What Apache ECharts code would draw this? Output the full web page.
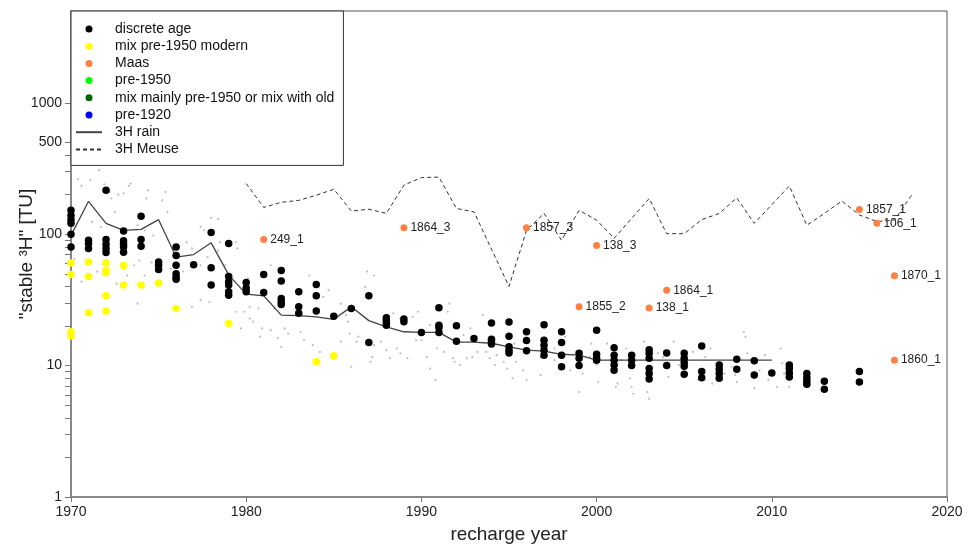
<!DOCTYPE html>
<html>
<head>
<meta charset="utf-8">
<script src="https://cdn.jsdelivr.net/npm/echarts@6/dist/echarts.min.js"></script>
<style>
  html, body { margin: 0; padding: 0; background: #fff; }
  #chart { width: 973px; height: 544px; }
</style>
</head>
<body>
<div id="chart"></div>
<script>
// tick positions on the y axis (TU)
var yTickLabels = [1, 10, 100, 500, 1000];
var yMinorTicks = [2, 3, 4, 5, 6, 7, 8, 9, 20, 30, 40, 50, 60, 70, 80, 90, 200, 300, 400];
var xTicks = [1970, 1980, 1990, 2000, 2010, 2020];

// 3H in rain
var rainYears = [1970, 1971, 1972, 1973, 1974, 1975, 1976, 1977, 1978, 1979,
  1980, 1981, 1982, 1983, 1984, 1985, 1986, 1987, 1988, 1989,
  1990, 1991, 1992, 1993, 1994, 1995, 1996, 1997, 1998, 1999,
  2000, 2001, 2002, 2003, 2004, 2005, 2006, 2007, 2008, 2009, 2010];
var rainTU = [98, 178, 121, 107, 109, 129, 67, 70, 86, 49,
  35, 34, 24.2, 24, 23.5, 22.5, 28, 22, 19.7, 18.1,
  17.9, 17.9, 15.1, 15.1, 14.8, 13.9, 13.1, 12.9, 12.2, 12.0,
  11, 11, 11, 11, 11, 11, 11, 11, 11, 11, 11];

// 3H in the Meuse
var meuseYears = [1980, 1981, 1982, 1983, 1984, 1985, 1986, 1987, 1988, 1989,
  1990, 1991, 1992, 1993, 1994, 1995, 1996, 1997, 1998, 1999,
  2000, 2001, 2002, 2003, 2004, 2005, 2006, 2007, 2008, 2009,
  2010, 2011, 2012, 2013, 2014, 2015, 2016, 2017, 2018];
var meuseTU = [243, 160, 175, 181, 198, 220, 150, 155, 144, 236,
  270, 272, 157, 148, 77, 40, 107, 144, 90, 152,
  128, 93, 132, 187, 101, 101, 129, 144, 189, 121,
  168, 233, 117, 144, 179, 140, 125, 128, 200];

// Maas samples
var maasNames = ['249_1', '1864_3', '1857_3', '138_3', '1855_2', '138_1', '1864_1', '1857_1', '106_1', '1870_1', '1860_1'];
var maasYears = [1981, 1989, 1996, 2000, 1999, 2003, 2004, 2015, 2016, 2017, 2017];
var maasTU = [91, 112, 112, 82, 28, 27.5, 37.5, 154, 121, 48.2, 11.0];

// discrete age [year, TU]
var discreteAge = [
  [1970, 152], [1970, 139], [1970, 129], [1970, 121], [1970, 100], [1970, 80],
  [1971, 90], [1971, 85], [1971, 78],
  [1972, 216], [1972, 91], [1972, 84], [1972, 78], [1972, 72.5],
  [1973, 106], [1973, 89], [1973, 84], [1973, 80], [1973, 73],
  [1974, 137], [1974, 91], [1974, 81],
  [1975, 61.5], [1975, 58], [1975, 54],
  [1976, 80], [1976, 69], [1976, 58], [1976, 50], [1976, 47], [1976, 45.5],
  [1977, 58.6],
  [1978, 103], [1978, 55.5], [1978, 41],
  [1979, 85], [1979, 47.6], [1979, 43.5], [1979, 41], [1979, 36.5], [1979, 34.3],
  [1980, 43], [1980, 39], [1980, 36.5],
  [1981, 49.4], [1981, 36],
  [1982, 53], [1982, 44], [1982, 32.4], [1982, 30.6], [1982, 29.2],
  [1983, 36.5], [1983, 28], [1983, 25],
  [1984, 41.5], [1984, 34], [1984, 26],
  [1985, 23.7],
  [1986, 27.2],
  [1987, 34], [1987, 15],
  [1988, 23.1], [1988, 22.2], [1988, 21.3], [1988, 20.3],
  [1989, 22.6], [1989, 21.6],
  [1990, 17.9],
  [1991, 27.6], [1991, 20.3], [1991, 19.5], [1991, 17.9],
  [1992, 20.1], [1992, 15.3],
  [1993, 16.1],
  [1994, 21.1], [1994, 15.9], [1994, 15.2], [1994, 14.6],
  [1995, 21.5], [1995, 16.7], [1995, 13.9], [1995, 13.1], [1995, 12.5],
  [1996, 18.1], [1996, 15.5], [1996, 13.0],
  [1997, 20.5], [1997, 15.6], [1997, 14.3], [1997, 13.1], [1997, 12.0],
  [1998, 18.1], [1998, 15.0], [1998, 12.0], [1998, 9.8],
  [1999, 12.4], [1999, 11.4], [1999, 10.0],
  [2000, 18.6], [2000, 12.2], [2000, 11.4], [2000, 11.0],
  [2001, 13.7], [2001, 12.0], [2001, 11.0], [2001, 10.1], [2001, 9.2],
  [2002, 12.0], [2002, 11.0], [2002, 10.0],
  [2003, 13.2], [2003, 12.4], [2003, 11.4], [2003, 9.5], [2003, 8.7], [2003, 7.9],
  [2004, 12.5], [2004, 10.0],
  [2005, 12.4], [2005, 11.4], [2005, 10.5], [2005, 9.9], [2005, 8.6],
  [2006, 14.1], [2006, 9.0], [2006, 8.1],
  [2007, 10.1], [2007, 9.4], [2007, 8.7], [2007, 8.0],
  [2008, 11.2], [2008, 9.4],
  [2009, 10.9], [2009, 8.5],
  [2010, 8.8],
  [2011, 10.1], [2011, 9.5], [2011, 8.8], [2011, 8.2],
  [2012, 8.7], [2012, 8.1], [2012, 7.6], [2012, 7.2],
  [2013, 7.6], [2013, 6.6],
  [2015, 9.0], [2015, 7.5]
];

// mix pre-1950 modern [year, TU]
var mixModern = [
  [1970, 60.5], [1970, 49.4], [1970, 18.1], [1970, 16.9],
  [1971, 61.5], [1971, 47.6], [1971, 25.2],
  [1972, 60.5], [1972, 53], [1972, 51], [1972, 34], [1972, 26],
  [1973, 57.9], [1973, 41],
  [1974, 41],
  [1975, 42.6],
  [1976, 27.2],
  [1979, 20.9],
  [1984, 10.7],
  [1985, 11.9]
];

// grey background cloud [year, TU]
var background = [
  [1970.4, 262], [1970.6, 233], [1971.1, 257], [1971.6, 307], [1971.9, 240], [1972.2, 210], [1972.3, 187],
  [1972.7, 200], [1973.0, 205], [1973.3, 233], [1973.4, 243], [1974.4, 216], [1975.2, 181], [1975.4, 210],
  [1975.5, 148], [1972.5, 148], [1971.2, 124], [1971.7, 114], [1973.8, 117], [1974.2, 107], [1974.7, 98],
  [1973.9, 63], [1974.6, 61], [1973.2, 48.5], [1973.6, 58], [1971.5, 52], [1970.6, 43.5], [1970.2, 65],
  [1972.6, 42], [1974.2, 48.5], [1975.7, 54.6], [1976.4, 52], [1976.6, 87], [1976.9, 78], [1977.4, 114],
  [1977.6, 107], [1978.0, 133], [1978.4, 131], [1978.5, 87], [1977.4, 58], [1977.8, 67], [1978.4, 75],
  [1978.8, 58], [1979.4, 87], [1979.5, 78], [1977.4, 31.5], [1977.9, 30.5], [1973.8, 29.6], [1979.4, 25.7],
  [1979.9, 25.7], [1979.7, 19.2], [1980.4, 21.6], [1980.2, 22.8], [1980.7, 27.2], [1980.9, 19.2], [1980.8, 16.6],
  [1981.4, 58], [1981.4, 18.6], [1981.6, 27.2], [1981.8, 16.2], [1982.0, 13.9], [1982.2, 19.2], [1982.4, 17.5],
  [1980.1, 46], [1981.1, 36.5], [1976.9, 28], [1980.2, 28], [1974.3, 187], [1971.0, 82],
  [1986.9, 52], [1987.3, 48.5], [1986.8, 39.7], [1983.6, 48.5], [1984.4, 33.3], [1985.4, 29.6], [1985.7, 24.2],
  [1985.8, 21.6], [1983.1, 18.1], [1983.3, 15.6], [1983.8, 14.3], [1984.2, 12.7], [1985.4, 15.2], [1986.0, 9.8],
  [1986.4, 16.6], [1987.2, 11.6], [1987.1, 10.7], [1987.7, 15.2], [1988.0, 13.1], [1988.6, 13.5], [1988.8, 12.4],
  [1989.2, 11.4], [1988.1, 24.2], [1988.4, 25], [1988.8, 22.8], [1989.5, 23.5], [1989.7, 15.6], [1990.0, 15.6],
  [1990.3, 11.6], [1990.5, 9.5], [1990.8, 7.8], [1990.9, 13.5], [1991.3, 12.7], [1991.6, 29.6], [1991.5, 25.7],
  [1991.8, 11.4], [1991.9, 10.7], [1992.2, 10.1], [1992.6, 11.4], [1992.9, 11.6], [1993.2, 12.7], [1993.5, 24.2],
  [1993.7, 12.7], [1993.9, 11.4], [1994.2, 10.1], [1994.3, 12], [1994.7, 10.7], [1994.9, 9.5], [1995.2, 8],
  [1992.8, 19.2], [1992.4, 17.1], [1990.5, 20.3], [1989.8, 25.7], [1986.3, 15.2], [1987.3, 14.3], [1988.2, 11.4],
  [1984.7, 37.5], [1982.9, 28.8], [1985.9, 17.5],
  [1995.4, 10.7], [1996.0, 7.8], [1996.8, 8.5], [1995.8, 9.2], [1997.6, 11], [1998.5, 9.2], [1999.0, 6.3],
  [1999.2, 8.7], [1999.7, 14.7], [2000.0, 10.1], [2000.1, 7.5], [2000.6, 14.7], [2001.1, 6.9], [2001.2, 7.3],
  [2001.9, 8], [2002.0, 6.9], [2002.1, 6.1], [2002.7, 15.2], [2002.9, 6.3], [2003.0, 5.6], [2003.5, 12.4],
  [2004.1, 8.2], [2004.4, 15.2], [2004.7, 10.1], [2005.5, 12.7], [2005.8, 7.8], [2006.5, 13.5], [2006.6, 7.3],
  [2007.3, 8.7], [2007.7, 9.8], [1995.3, 14.7], [1996.8, 11.6], [1997.6, 13.5], [1998.2, 16.6], [2001.4, 11],
  [2001.7, 13.5], [2003.8, 11.6], [2004.8, 11], [2006.2, 11.6], [1999.6, 11.6],
  [2008.4, 18.1], [2008.5, 16.6], [2008.6, 12.4], [2009.6, 12], [2010.5, 13.5], [2010.6, 10.4], [2008.0, 7.5],
  [2009.0, 6.7], [2009.0, 8], [2009.8, 7.8], [2010.3, 6.9], [2011.0, 6.9], [2010.7, 8.7], [2007.9, 8.5],
  [2009.3, 9.2]
];

(function () {
  var font = '"Liberation Sans", Arial, sans-serif';
  var yMax = 5000;

  function pairs(xs, ys) {
    return xs.map(function (x, i) { return [x, ys[i]]; });
  }

  var maasData = maasYears.map(function (y, i) {
    return { name: maasNames[i], value: [y, maasTU[i]] };
  });

  var log10 = function (v) { return Math.log10(v); };
  var noSymbol = { opacity: 0 };

  var chart = echarts.init(document.getElementById('chart'), null, { renderer: 'canvas' });
  chart.setOption({
    animation: false,
    backgroundColor: '#fff',
    textStyle: { fontFamily: font },
    grid: {
      left: 71, right: 26, top: 11, bottom: 47,
      outerBoundsMode: 'none',
      show: true, borderColor: '#555', borderWidth: 1
    },
    legend: {
      orient: 'vertical',
      left: 71, top: 11,
      padding: [11, 9, 9, 4],
      borderColor: '#333', borderWidth: 1,
      backgroundColor: '#fff',
      itemWidth: 26, itemHeight: 7, itemGap: 3.2,
      textStyle: { fontSize: 14, color: '#111', lineHeight: 14, padding: [0, 0, 0, 8] },
      data: ['discrete age', 'mix pre-1950 modern', 'Maas', 'pre-1950',
        'mix mainly pre-1950 or mix with old', 'pre-1920',
        { name: '3H rain', itemStyle: noSymbol },
        { name: '3H Meuse', itemStyle: noSymbol }]
    },
    xAxis: {
      type: 'value',
      min: xTicks[0], max: xTicks[xTicks.length - 1], interval: 10,
      name: 'recharge year', nameLocation: 'middle', nameGap: 28,
      nameMoveOverlap: false,
      nameTextStyle: { fontSize: 19, color: '#222' },
      axisLine: { lineStyle: { color: '#888', width: 2 } },
      axisTick: { length: 5, lineStyle: { color: '#777' } },
      axisLabel: { fontSize: 14, color: '#222', margin: 8, formatter: function (v) { return String(v); } },
      splitLine: { show: false }
    },
    yAxis: [{
      type: 'log', logBase: 10, min: 1, max: yMax,
      axisLine: { show: true, lineStyle: { color: '#888', width: 2 } },
      axisTick: { show: false },
      axisLabel: { show: false },
      splitLine: { show: false }
    }, {
      type: 'value', position: 'left', offset: 0,
      min: 0, max: log10(yMax),
      name: '"stable \u00b3H" [TU]', nameLocation: 'middle', nameGap: 35,
      nameMoveOverlap: false,
      nameTextStyle: { fontSize: 19, color: '#222' },
      axisLine: { show: false },
      axisTick: {
        show: true, length: 6, lineStyle: { color: '#777' },
        customValues: yTickLabels.concat(yMinorTicks).map(log10)
      },
      axisLabel: {
        fontSize: 14, color: '#222', margin: 9,
        customValues: yTickLabels.map(log10),
        formatter: function (v) { return String(Math.round(Math.pow(10, v))); }
      },
      splitLine: { show: false }
    }],
    series: [
      {
        name: 'background', type: 'scatter', yAxisIndex: 0,
        symbolSize: 2.2, itemStyle: { color: '#bdbdbd', opacity: 1 },
        silent: true, data: background, z: 1
      },
      {
        name: '3H rain', type: 'line', yAxisIndex: 0, symbol: 'none',
        lineStyle: { color: '#444', width: 1.3 },
        itemStyle: { color: '#444' },
        data: pairs(rainYears, rainTU), z: 2
      },
      {
        name: '3H Meuse', type: 'line', yAxisIndex: 0, symbol: 'none',
        lineStyle: { color: '#333', width: 1, type: [4, 3] },
        itemStyle: { color: '#333' },
        data: pairs(meuseYears, meuseTU), z: 2
      },
      {
        name: 'discrete age', type: 'scatter', yAxisIndex: 0,
        symbolSize: 7.5, itemStyle: { color: '#000', opacity: 1 },
        data: discreteAge, z: 3
      },
      {
        name: 'mix pre-1950 modern', type: 'scatter', yAxisIndex: 0,
        symbolSize: 7.5, itemStyle: { color: '#ffff00', opacity: 1 },
        data: mixModern, z: 3
      },
      {
        name: 'Maas', type: 'scatter', yAxisIndex: 0,
        symbolSize: 7, itemStyle: { color: '#ff7f45', opacity: 1 },
        label: {
          show: true, position: 'right', distance: 3,
          fontSize: 12, color: '#222',
          formatter: function (p) { return p.name; }
        },
        data: maasData, z: 4
      },
      { name: 'pre-1950', type: 'scatter', yAxisIndex: 0, itemStyle: { color: '#00ff00', opacity: 1 }, data: [] },
      { name: 'mix mainly pre-1950 or mix with old', type: 'scatter', yAxisIndex: 0, itemStyle: { color: '#006400', opacity: 1 }, data: [] },
      { name: 'pre-1920', type: 'scatter', yAxisIndex: 0, itemStyle: { color: '#0000ff', opacity: 1 }, data: [] }
    ]
  });
  window.addEventListener('resize', function () { chart.resize(); });
})();
</script>
</body>
</html>
